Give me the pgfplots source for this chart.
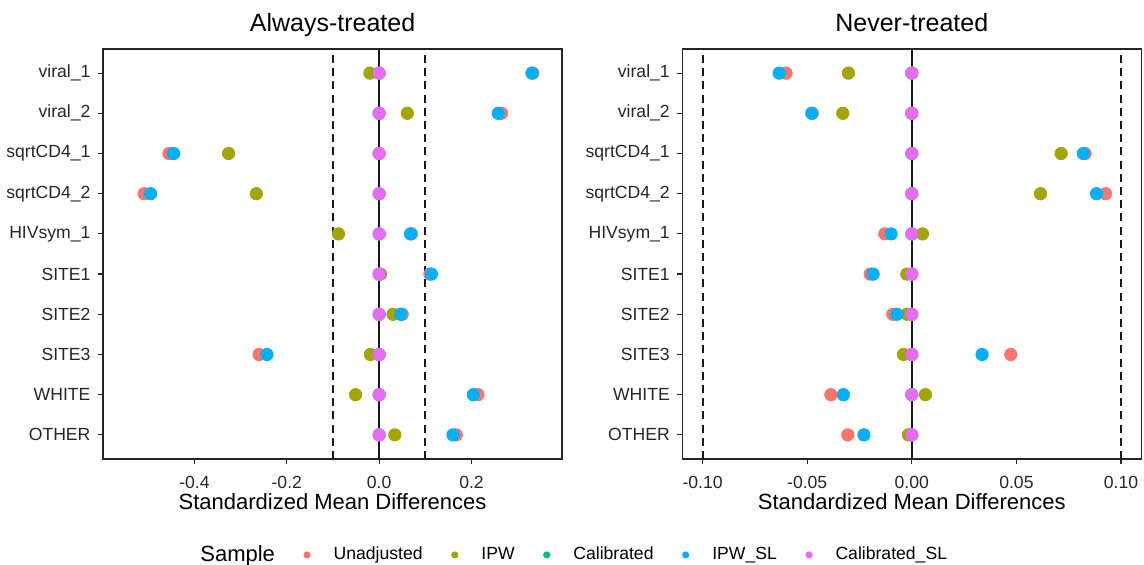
\documentclass[border=0pt]{standalone}
\usepackage{pgfplots}
\usepackage{pgfplotstable}
\pgfplotsset{compat=1.18}
\usepackage{fontspec}
\setmainfont{Liberation Sans}

\definecolor{cUnadj}{HTML}{F8766D}
\definecolor{cIPW}{HTML}{A3A500}
\definecolor{cCal}{HTML}{00BF7D}
\definecolor{cIPWSL}{HTML}{00B0F6}
\definecolor{cCalSL}{HTML}{E76BF3}

% y: 10 = viral_1 ... 1 = OTHER
\pgfplotstableread{
y  unadj   ipw     cal  ipwsl   calsl
10  0.333  -0.020  0    0.331   0
9   0.265   0.061  0    0.258   0
8  -0.455  -0.326  0   -0.445   0
7  -0.509  -0.266  0   -0.495   0
6   0.070  -0.088  0    0.068   0
5   0.110   0.003  0    0.113   0
4   0.050   0.030  0    0.047   0
3  -0.260  -0.019  0   -0.243   0
2   0.214  -0.051  0    0.204   0
1   0.167   0.034  0    0.160   0
}\always

\pgfplotstableread{
y  unadj    ipw      cal  ipwsl    calsl
10 -0.0601  -0.0303  0   -0.0634   0
9  -0.0476  -0.0330  0   -0.0478   0
8   0.0828   0.0714  0    0.0820   0
7   0.0926   0.0615  0    0.0883   0
6  -0.0129   0.0051  0   -0.0099   0
5  -0.0199  -0.0024  0   -0.0185   0
4  -0.0091  -0.0023  0   -0.0072   0
3   0.0473  -0.0040  0    0.0336   0
2  -0.0387   0.0065  0   -0.0327   0
1  -0.0306  -0.0016  0   -0.0229   0
}\never

\pgfplotsset{
  smd/.style={
    scale only axis,
    width=229.5pt, height=205pt,
    ymin=0.4, ymax=10.6,
    ytick={1,...,10},
    yticklabels={OTHER,WHITE,SITE3,SITE2,SITE1,HIVsym\_1,sqrtCD4\_2,sqrtCD4\_1,viral\_2,viral\_1},
    xtick pos=bottom, ytick pos=left,
    tick align=outside,
    major tick length=2.75pt,
    axis line style={black!85, line width=0.6pt},
    tick style={black!85, line width=0.6pt},
    ticklabel style={font=\fontsize{8.8}{10}\selectfont, text=black!85},
    xticklabel style={anchor=base, yshift=-12pt},
    /pgf/number format/assume math mode=true,
    /pgf/number format/fixed,
    /pgf/number format/fixed zerofill,
    xlabel={Standardized Mean Differences},
    xlabel style={font=\fontsize{11}{13}\selectfont, at={(axis description cs:0.5,0)}, anchor=base, yshift=-25.5pt},
    title style={font=\fontsize{12.5}{14}\selectfont, at={(axis description cs:0.5,1)}, anchor=base, yshift=2.5pt},
    clip=false,
  },
  pt/.style={only marks, mark=*, mark size=3.1pt, mark options={draw=none, fill=#1}, color=#1},
  dashref/.style={black!90, line width=1pt, dash pattern=on 4pt off 2.6pt, forget plot},
}

\begin{document}
\begin{tikzpicture}
\path[use as bounding box] (0,0) rectangle (572pt,282.5pt);

\begin{axis}[smd, at={(51.5pt,53pt)}, anchor=south west,
  xmin=-0.598, xmax=0.396,
  xtick={-0.4,-0.2,0,0.2},
  /pgf/number format/precision=1,
  title={Always-treated},
  legend columns=6,
  legend style={at={(0.1481,-0.234)}, anchor=west, draw=none, fill=none,
    nodes={inner sep=0pt, font=\fontsize{8.8}{10}\selectfont},
    /tikz/every odd column/.append style={column sep=11.5pt},
    /tikz/every even column/.append style={column sep=14.25pt}},
  legend image code/.code={\fill[#1, draw=none] (0pt,0pt) circle (1.8pt);},
]
\addlegendimage{empty legend}
\addlegendentry{\fontsize{11}{13}\selectfont Sample}
\addplot[dashref] coordinates {(-0.1,0.4) (-0.1,10.6)};
\addplot[dashref] coordinates {(0.1,0.4) (0.1,10.6)};
\addplot[black!90, line width=1pt, forget plot] coordinates {(0,0.4) (0,10.6)};
\addplot[pt=cUnadj] table[x=unadj, y=y] {\always};
\addlegendentry{Unadjusted}
\addplot[pt=cIPW] table[x=ipw, y=y] {\always};
\addlegendentry{IPW}
\addplot[pt=cCal] table[x=cal, y=y] {\always};
\addlegendentry{Calibrated}
\addplot[pt=cIPWSL] table[x=ipwsl, y=y] {\always};
\addlegendentry{IPW\_SL}
\addplot[pt=cCalSL] table[x=calsl, y=y] {\always};
\addlegendentry{Calibrated\_SL}
\end{axis}

\begin{axis}[smd, at={(341.15pt,53pt)}, anchor=south west,
  xmin=-0.1097, xmax=0.1097,
  xtick={-0.1,-0.05,0,0.05,0.1},
  /pgf/number format/precision=2,
  title={Never-treated},
]
\addplot[dashref] coordinates {(-0.1,0.4) (-0.1,10.6)};
\addplot[dashref] coordinates {(0.1,0.4) (0.1,10.6)};
\addplot[black!90, line width=1pt, forget plot] coordinates {(0,0.4) (0,10.6)};
\addplot[pt=cUnadj] table[x=unadj, y=y] {\never};
\addplot[pt=cIPW] table[x=ipw, y=y] {\never};
\addplot[pt=cCal] table[x=cal, y=y] {\never};
\addplot[pt=cIPWSL] table[x=ipwsl, y=y] {\never};
\addplot[pt=cCalSL] table[x=calsl, y=y] {\never};
\end{axis}
\end{tikzpicture}
\end{document}
